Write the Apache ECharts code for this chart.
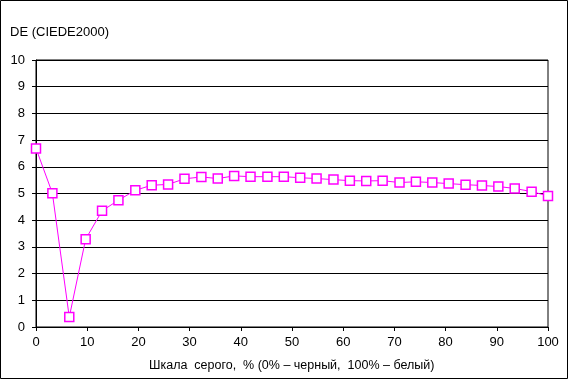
<!DOCTYPE html>
<html><head><meta charset="utf-8">
<script src="https://cdn.jsdelivr.net/npm/echarts@6/dist/echarts.min.js"></script>
<style>html,body{margin:0;padding:0;background:#fff}#c{width:568px;height:379px}</style>
</head><body><div id="c"></div>
<script>
const grayPercent = [0, 3.2, 6.5, 9.7, 12.9, 16.1, 19.4, 22.6, 25.8, 29.0, 32.3, 35.5, 38.7, 41.9, 45.2, 48.4, 51.6, 54.8, 58.1, 61.3, 64.5, 67.7, 71.0, 74.2, 77.4, 80.6, 83.9, 87.1, 90.3, 93.5, 96.8, 100];
const deValues = [6.69, 5.01, 0.37, 3.29, 4.35, 4.75, 5.12, 5.31, 5.34, 5.55, 5.62, 5.56, 5.66, 5.63, 5.63, 5.63, 5.59, 5.56, 5.52, 5.48, 5.47, 5.48, 5.41, 5.44, 5.41, 5.37, 5.33, 5.30, 5.26, 5.19, 5.07, 4.91];
const yTitle = 'DE (CIEDE2000)';
const xTitle = 'Шкала  серого,  % (0% – черный,  100% – белый)';

const chart = echarts.init(document.getElementById('c'), null, {renderer: 'canvas'});
const font = '"Liberation Sans", Arial, sans-serif';
chart.setOption({
  animation: false,
  backgroundColor: '#fff',
  graphic: [
    {type: 'rect', shape: {x: 0.5, y: 0.5, width: 567, height: 378}, style: {fill: 'none', stroke: '#000', lineWidth: 1}},
    {type: 'text', left: 10, top: 26, style: {text: yTitle, font: '13px ' + font, fill: '#000'}},
    {type: 'text', left: 149, top: 359, style: {text: xTitle, font: '12.5px ' + font, fill: '#000'}}
  ],
  grid: {left: 36, right: 20, top: 60, bottom: 52, show: true, borderColor: '#000', borderWidth: 1, backgroundColor: 'transparent'},
  xAxis: {
    type: 'value', min: 0, max: 100, interval: 10,
    axisLine: {show: true, lineStyle: {color: '#000', width: 1}},
    axisTick: {show: true, length: 4, lineStyle: {color: '#000'}},
    axisLabel: {color: '#000', fontFamily: font, fontSize: 13, margin: 9},
    splitLine: {show: false}
  },
  yAxis: {
    type: 'value', min: 0, max: 10, interval: 1,
    axisLine: {show: true, lineStyle: {color: '#000', width: 1}},
    axisTick: {show: true, length: 4, lineStyle: {color: '#000'}},
    axisLabel: {color: '#000', fontFamily: font, fontSize: 13, margin: 11},
    splitLine: {show: true, lineStyle: {color: '#000', width: 1}}
  },
  series: [{
    type: 'line',
    data: grayPercent.map((x, i) => [x, deValues[i]]),
    symbol: 'rect', symbolSize: 9, showAllSymbol: true,
    lineStyle: {color: '#FF00FF', width: 1},
    itemStyle: {color: '#fff', borderColor: '#FF00FF', borderWidth: 1.5}
  }]
});
</script></body></html>
